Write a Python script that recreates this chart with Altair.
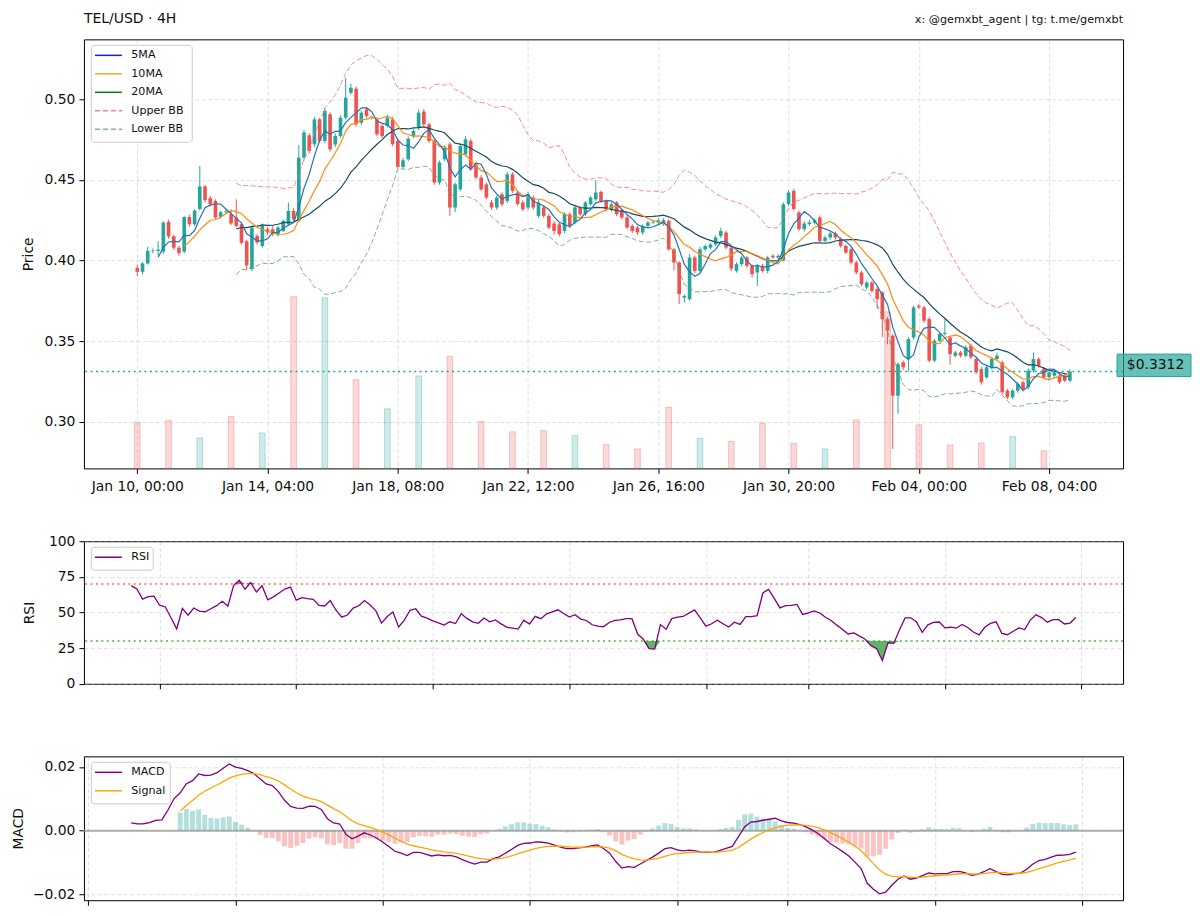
import altair as alt
import numpy as np
import pandas as pd

FONT = "DejaVu Sans"
UP = "#26a69a"
DOWN = "#ef5350"

# ---------------- data (4H candles, index 0 = Jan 10 00:00) ----------------
opens = [
    0.3955, 0.3930, 0.3982, 0.4058, 0.4060, 0.4055, 0.4240, 0.4150, 0.4080, 0.4056,
    0.4270, 0.4225, 0.4320, 0.4460, 0.4387, 0.4370, 0.4271, 0.4300, 0.4287, 0.4267,
    0.4226, 0.4120, 0.3947, 0.4153, 0.4090, 0.4194, 0.4194, 0.4164, 0.4184, 0.4225,
    0.4308, 0.4246, 0.4639, 0.4777, 0.4721, 0.4876, 0.4742, 0.4907, 0.4720, 0.4773,
    0.4886, 0.5041, 0.5066, 0.4855, 0.4938, 0.4890, 0.4876, 0.4835, 0.4835, 0.4876,
    0.4742, 0.4581, 0.4628, 0.4773, 0.4824, 0.4924, 0.4845, 0.4742, 0.4484, 0.4628,
    0.4721, 0.4329, 0.4442, 0.4659, 0.4742, 0.4597, 0.4515, 0.4473, 0.4360, 0.4329,
    0.4411, 0.4370, 0.4535, 0.4422, 0.4360, 0.4329, 0.4391, 0.4277, 0.4329, 0.4277,
    0.4230, 0.4225, 0.4184, 0.4287, 0.4236, 0.4329, 0.4287, 0.4349, 0.4380, 0.4426,
    0.4370, 0.4318, 0.4360, 0.4308, 0.4267, 0.4215, 0.4205, 0.4174, 0.4215, 0.4236,
    0.4236, 0.4226, 0.4246, 0.4070, 0.3988, 0.3770, 0.3761, 0.4019, 0.3936, 0.4070,
    0.4080, 0.4100, 0.4153, 0.4174, 0.4080, 0.3936, 0.3978, 0.4019, 0.3967, 0.3926,
    0.3967, 0.3936, 0.4030, 0.4019, 0.4000, 0.4350, 0.4432, 0.4298, 0.4195, 0.4226,
    0.4236, 0.4267, 0.4122, 0.4143, 0.4168, 0.4133, 0.4091, 0.4070, 0.3988, 0.3926,
    0.3833, 0.3864, 0.3823, 0.3802, 0.3637, 0.3534, 0.3162, 0.3369, 0.3390, 0.3523,
    0.3720, 0.3709, 0.3637, 0.3379, 0.3503, 0.3544, 0.3523, 0.3410, 0.3430, 0.3410,
    0.3472, 0.3389, 0.3327, 0.3276, 0.3338, 0.3390, 0.3369, 0.3193, 0.3152, 0.3193,
    0.3245, 0.3214, 0.3317, 0.3389, 0.3327, 0.3276, 0.3286, 0.3286, 0.3286, 0.3255,
]
highs = [
    0.3975, 0.3990, 0.4085, 0.4075, 0.4120, 0.4245, 0.4255, 0.4160, 0.4090, 0.4275,
    0.4285, 0.4320, 0.4587, 0.4470, 0.4400, 0.4380, 0.4310, 0.4320, 0.4317, 0.4380,
    0.4235, 0.4130, 0.4215, 0.4165, 0.4230, 0.4210, 0.4215, 0.4215, 0.4255, 0.4360,
    0.4325, 0.4717, 0.4810, 0.4790, 0.4890, 0.4885, 0.4945, 0.4920, 0.4790, 0.4900,
    0.5134, 0.5097, 0.5080, 0.4930, 0.4950, 0.4900, 0.4890, 0.4850, 0.4905, 0.4890,
    0.4755, 0.4635, 0.4770, 0.4815, 0.4935, 0.4940, 0.4855, 0.4755, 0.4620, 0.4715,
    0.4735, 0.4485, 0.4725, 0.4770, 0.4755, 0.4610, 0.4530, 0.4485, 0.4375, 0.4405,
    0.4425, 0.4550, 0.4550, 0.4435, 0.4375, 0.4425, 0.4405, 0.4375, 0.4345, 0.4290,
    0.4245, 0.4240, 0.4300, 0.4300, 0.4340, 0.4340, 0.4370, 0.4400, 0.4498, 0.4435,
    0.4380, 0.4360, 0.4370, 0.4320, 0.4280, 0.4225, 0.4215, 0.4225, 0.4245, 0.4250,
    0.4262, 0.4262, 0.4255, 0.4080, 0.3995, 0.3790, 0.4040, 0.4030, 0.4085, 0.4100,
    0.4110, 0.4155, 0.4205, 0.4185, 0.4090, 0.3990, 0.4030, 0.4030, 0.3975, 0.3980,
    0.3980, 0.4030, 0.4040, 0.4040, 0.4360, 0.4435, 0.4445, 0.4310, 0.4245, 0.4250,
    0.4262, 0.4280, 0.4155, 0.4180, 0.4180, 0.4145, 0.4100, 0.4080, 0.4000, 0.3935,
    0.3875, 0.3875, 0.3835, 0.3810, 0.3650, 0.3545, 0.3370, 0.3380, 0.3525, 0.3720,
    0.3730, 0.3720, 0.3650, 0.3515, 0.3555, 0.3637, 0.3535, 0.3440, 0.3440, 0.3475,
    0.3485, 0.3400, 0.3340, 0.3350, 0.3400, 0.3430, 0.3380, 0.3205, 0.3205, 0.3245,
    0.3255, 0.3330, 0.3430, 0.3400, 0.3340, 0.3320, 0.3320, 0.3300, 0.3300, 0.3325,
]
lows = [
    0.3905, 0.3915, 0.3975, 0.4045, 0.4030, 0.4040, 0.4135, 0.4065, 0.4030, 0.4045,
    0.4210, 0.4215, 0.4310, 0.4360, 0.4335, 0.4255, 0.4260, 0.4290, 0.4220, 0.4205,
    0.4100, 0.3940, 0.3935, 0.4100, 0.4080, 0.4160, 0.4150, 0.4150, 0.4175, 0.4215,
    0.4245, 0.4240, 0.4620, 0.4665, 0.4705, 0.4730, 0.4730, 0.4675, 0.4705, 0.4760,
    0.4875, 0.5030, 0.4830, 0.4840, 0.4885, 0.4875, 0.4770, 0.4760, 0.4825, 0.4710,
    0.4570, 0.4570, 0.4615, 0.4760, 0.4810, 0.4830, 0.4730, 0.4470, 0.4470, 0.4615,
    0.4277, 0.4300, 0.4430, 0.4645, 0.4555, 0.4505, 0.4430, 0.4380, 0.4315, 0.4315,
    0.4335, 0.4355, 0.4420, 0.4340, 0.4305, 0.4315, 0.4315, 0.4265, 0.4265, 0.4195,
    0.4160, 0.4150, 0.4170, 0.4200, 0.4225, 0.4275, 0.4275, 0.4340, 0.4370, 0.4360,
    0.4305, 0.4305, 0.4275, 0.4255, 0.4195, 0.4170, 0.4160, 0.4160, 0.4205, 0.4225,
    0.4225, 0.4215, 0.4060, 0.3940, 0.3730, 0.3740, 0.3750, 0.3920, 0.3925, 0.4060,
    0.4070, 0.4090, 0.4140, 0.4070, 0.3935, 0.3925, 0.3965, 0.3955, 0.3895, 0.3843,
    0.3925, 0.3920, 0.4010, 0.4005, 0.3995, 0.4340, 0.4310, 0.4185, 0.4180, 0.4215,
    0.4225, 0.4110, 0.4110, 0.4130, 0.4130, 0.4080, 0.4040, 0.3975, 0.3915, 0.3840,
    0.3820, 0.3800, 0.3700, 0.3525, 0.3480, 0.2832, 0.3050, 0.3320, 0.3310, 0.3510,
    0.3700, 0.3615, 0.3370, 0.3370, 0.3495, 0.3535, 0.3354, 0.3400, 0.3400, 0.3400,
    0.3390, 0.3295, 0.3230, 0.3265, 0.3325, 0.3380, 0.3170, 0.3140, 0.3140, 0.3180,
    0.3190, 0.3200, 0.3305, 0.3335, 0.3265, 0.3265, 0.3275, 0.3235, 0.3245, 0.3245,
]
closes = [
    0.3930, 0.3982, 0.4060, 0.4062, 0.4068, 0.4235, 0.4150, 0.4080, 0.4046, 0.4270,
    0.4225, 0.4310, 0.4460, 0.4375, 0.4350, 0.4267, 0.4300, 0.4305, 0.4230, 0.4215,
    0.4110, 0.3970, 0.4205, 0.4112, 0.4215, 0.4174, 0.4164, 0.4205, 0.4246, 0.4308,
    0.4256, 0.4638, 0.4794, 0.4680, 0.4876, 0.4742, 0.4928, 0.4690, 0.4773, 0.4886,
    0.5010, 0.5072, 0.4845, 0.4917, 0.4897, 0.4886, 0.4783, 0.4773, 0.4886, 0.4721,
    0.4581, 0.4622, 0.4756, 0.4804, 0.4917, 0.4845, 0.4742, 0.4484, 0.4608, 0.4700,
    0.4329, 0.4473, 0.4711, 0.4752, 0.4566, 0.4515, 0.4442, 0.4391, 0.4329, 0.4391,
    0.4349, 0.4535, 0.4432, 0.4350, 0.4318, 0.4411, 0.4329, 0.4360, 0.4277, 0.4205,
    0.4184, 0.4164, 0.4287, 0.4215, 0.4329, 0.4287, 0.4360, 0.4391, 0.4422, 0.4370,
    0.4318, 0.4349, 0.4287, 0.4267, 0.4205, 0.4184, 0.4174, 0.4215, 0.4236, 0.4240,
    0.4250, 0.4250, 0.4070, 0.3988, 0.3792, 0.3780, 0.4019, 0.3936, 0.4070, 0.4090,
    0.4100, 0.4143, 0.4184, 0.4081, 0.3950, 0.3978, 0.4019, 0.3967, 0.3916, 0.3967,
    0.3936, 0.4019, 0.4020, 0.4029, 0.4349, 0.4422, 0.4320, 0.4195, 0.4230, 0.4236,
    0.4250, 0.4122, 0.4143, 0.4168, 0.4143, 0.4091, 0.4050, 0.3988, 0.3926, 0.3854,
    0.3864, 0.3812, 0.3761, 0.3637, 0.3565, 0.3162, 0.3358, 0.3338, 0.3513, 0.3709,
    0.3710, 0.3627, 0.3379, 0.3503, 0.3544, 0.3550, 0.3420, 0.3430, 0.3410, 0.3461,
    0.3400, 0.3307, 0.3245, 0.3338, 0.3389, 0.3410, 0.3183, 0.3152, 0.3193, 0.3234,
    0.3203, 0.3317, 0.3389, 0.3348, 0.3276, 0.3307, 0.3307, 0.3245, 0.3255, 0.3312,
]

volume_index = [0, 6, 12, 18, 24, 30, 36, 42, 48, 54, 60, 66, 72, 78, 84,
                90, 96, 102, 108, 114, 120, 126, 132, 138, 144, 150, 156, 162, 168, 174]
volumes = [460000, 477000, 304000, 517000, 354000, 1710000, 1700000, 884000, 594000, 920000,
           1117000, 467000, 365000, 377000, 327000, 237000, 194000, 610000, 300000, 270000,
           450000, 250000, 194000, 484000, 1560000, 434000, 234000, 254000, 317000, 177000]

date_tick_index = [0, 25, 50, 75, 100, 125, 150, 175]
date_tick_labels = ["Jan 10, 00:00", "Jan 14, 04:00", "Jan 18, 08:00", "Jan 22, 12:00",
                    "Jan 26, 16:00", "Jan 30, 20:00", "Feb 04, 00:00", "Feb 08, 04:00"]
# Jan 13, 17, 21, 25, 29, Feb 1, 5, 9 at 00:00, as candle numbers
day_tick_index = [18, 42, 66, 90, 114, 132, 156, 180]
price_ticks = [0.30, 0.35, 0.40, 0.45, 0.50]
rsi_ticks = [0, 25, 50, 75, 100]
macd_ticks = [-0.02, 0.0, 0.02]

title_text = "TEL/USD · 4H"
credit_text = "x: @gemxbt_agent | tg: t.me/gemxbt"

# ---------------- derived tables ----------------
df = pd.DataFrame({"i": np.arange(len(closes)), "o": opens, "h": highs, "l": lows, "c": closes})
df["dir"] = np.where(df["c"] >= df["o"], "up", "down")
top = df[["o", "c"]].max(axis=1)
bot = df[["o", "c"]].min(axis=1)
mid = (top + bot) / 2
thin = (top - bot) < 0.0004
df["btop"] = np.where(thin, mid + 0.0002, top)
df["bbot"] = np.where(thin, mid - 0.0002, bot)
df["bx0"] = df["i"] - 0.35
df["bx1"] = df["i"] + 0.35
c = df["c"]
df["ma5"] = c.rolling(5).mean()
df["ma10"] = c.rolling(10).mean()
df["ma20"] = c.rolling(20).mean()
sd = c.rolling(20).std()
df["bbu"] = df["ma20"] + 2 * sd
df["bbl"] = df["ma20"] - 2 * sd

delta = c.diff()
gain = delta.where(delta > 0, 0).ewm(alpha=1 / 14, adjust=False, min_periods=14).mean()
loss = (-delta.where(delta < 0, 0)).ewm(alpha=1 / 14, adjust=False, min_periods=14).mean()
df["rsi"] = 100 - 100 / (1 + gain / loss)
df["rsi_hi"] = df["rsi"].clip(lower=70)
df["rsi_lo"] = df["rsi"].clip(upper=30)
df["lvl70"] = 70.0
df["lvl30"] = 30.0

ema12 = c.ewm(span=12, adjust=False).mean()
ema26 = c.ewm(span=26, adjust=False, min_periods=26).mean()
df["macd"] = ema12 - ema26
df["signal"] = df["macd"].ewm(span=9, adjust=False, min_periods=9).mean()
df["hist"] = df["macd"] - df["signal"]
df["hdir"] = np.where(df["hist"] >= 0, "up", "down")
df["hx0"] = df["i"] - 0.4
df["hx1"] = df["i"] + 0.4
df["zero"] = 0.0

vdf = pd.DataFrame({"i": volume_index, "v": volumes})
vdf["dir"] = df.loc[volume_index, "dir"].values
vdf["x0"] = vdf["i"] - 0.55
vdf["x1"] = vdf["i"] + 0.55
vdf["v0"] = 0

last = closes[-1]
pdf = pd.DataFrame({"p": [last], "label": [f"${last:.4f}"]})
one = pd.DataFrame({"k": [0]})

# ---------------- geometry ----------------
W = 1040
H_MAIN, H_RSI, H_MACD = 429.4, 142.7, 144
GAP = 72.3
LEFT_EXT, TOP_EXT = 74.6, 30.3   # canvas space left of / above the price plot

dir_scale = alt.Scale(domain=["up", "down"], range=[UP, DOWN])


def legend(entries, box_w):
    n = len(entries)
    layers = [
        alt.Chart(one).mark_rect(fill="white", fillOpacity=0.85, stroke="#cccccc",
                                 strokeWidth=1, cornerRadius=3).encode(
            x=alt.value(7.4), x2=alt.value(7.4 + box_w),
            y=alt.value(6), y2=alt.value(6 + 18.5 * n + 4.5))
    ]
    for k, (label, color, dash) in enumerate(entries):
        yk = 16 + 18.5 * k
        kw = dict(color=color, strokeWidth=1.5)
        if dash:
            kw["strokeDash"] = dash
        layers.append(alt.Chart(one).mark_rule(**kw).encode(
            x=alt.value(11), x2=alt.value(38), y=alt.value(yk)))
        layers.append(alt.Chart(one).mark_text(text=label, align="left", baseline="middle",
                                               fontSize=11.1, color="#111", font=FONT).encode(
            x=alt.value(47.4), y=alt.value(yk)))
    return layers


# ---------------- main panel ----------------
label_expr = "[" + ",".join(f"'{t}'" for t in date_tick_labels) + "][round(datum.value/25)]"
x_main_scale = alt.Scale(domain=[-10.24, 189.2], nice=False, zero=False)
x_main_axis = alt.Axis(values=date_tick_index, labelExpr=label_expr, title=None, grid=True,
                       labelFlush=False, labelOverlap=False, labelPadding=6)
price_scale = alt.Scale(domain=[0.2711, 0.5372], nice=False, zero=False)
price_axis = alt.Axis(values=price_ticks, format=".2f", title="Price", grid=True, orient="left",
                      titlePadding=9)


def MX(f):
    return alt.X(f"{f}:Q", scale=x_main_scale, axis=x_main_axis)


def MY(f):
    return alt.Y(f"{f}:Q", scale=price_scale, axis=price_axis)


vol = alt.Chart(vdf).mark_rect(fillOpacity=0.22, strokeOpacity=0.3, strokeWidth=1).encode(
    x=MX("x0"), x2=alt.X2("x1"),
    y=alt.Y("v:Q", scale=alt.Scale(domain=[0, max(volumes) * 2.5], nice=False), axis=None),
    y2=alt.Y2("v0"),
    fill=alt.Fill("dir:N", scale=dir_scale, legend=None),
    stroke=alt.Stroke("dir:N", scale=dir_scale, legend=None),
)

wick = alt.Chart(df).mark_rule(strokeWidth=1).encode(
    x=MX("i"), y=MY("l"), y2=alt.Y2("h"),
    color=alt.Color("dir:N", scale=dir_scale, legend=None))
body = alt.Chart(df).mark_rect().encode(
    x=MX("bx0"), x2=alt.X2("bx1"), y=MY("bbot"), y2=alt.Y2("btop"),
    color=alt.Color("dir:N", scale=dir_scale, legend=None))


def mline(field, color, width=1.2, dash=None, opacity=1.0):
    kw = dict(color=color, strokeWidth=width, opacity=opacity)
    if dash:
        kw["strokeDash"] = dash
    return alt.Chart(df).mark_line(**kw).encode(x=MX("i"), y=MY(field))


ma_layers = [
    mline("bbu", "#f07070", 1.0, [5, 2.5], 0.8),
    mline("bbl", "#5aa55a", 1.0, [5, 2.5], 0.8),
    mline("ma20", "#174d5f", 1.2),
    mline("ma10", "#ff8a10", 1.2),
    mline("ma5", "#2a72b5", 1.2),
]

pline = alt.Chart(pdf).mark_rule(color=UP, strokeWidth=1.5, strokeDash=[2, 3.4]).encode(y=MY("p"))
pbox = alt.Chart(pdf).mark_rect(fill=UP, fillOpacity=0.7, stroke=UP, strokeWidth=1,
                                yOffset=-17.4, y2Offset=5.0).encode(
    x=alt.value(W - 6), x2=alt.value(W + 68), y=MY("p"), y2=alt.Y2("p"))
ptext = alt.Chart(pdf).mark_text(fontSize=13.9, color="#111", dy=-6, align="center",
                                 baseline="middle", font=FONT).encode(
    x=alt.value(W + 32.5), y=MY("p"), text="label:N")

t_left = alt.Chart(one).mark_text(text=title_text, align="left", baseline="middle",
                                  fontSize=14, color="#111", font=FONT).encode(
    x=alt.value(0), y=alt.value(-20.3))
t_right = alt.Chart(one).mark_text(text=credit_text, align="right", baseline="middle",
                                   fontSize=11.2, color="#111", font=FONT).encode(
    x=alt.value(W), y=alt.value(-19.8))
# white 1px corner marker fixing the canvas origin relative to the plots
anchor = alt.Chart(one).mark_rect(fill="white", opacity=1).encode(
    x=alt.value(-LEFT_EXT), x2=alt.value(-LEFT_EXT + 1),
    y=alt.value(-TOP_EXT), y2=alt.value(-TOP_EXT + 1))

main_legend = legend([
    ("5MA", "#1a1adf", None),
    ("10MA", "#f5a623", None),
    ("20MA", "#0a7a0a", None),
    ("Upper BB", "#f08080", [5, 3]),
    ("Lower BB", "#80b880", [5, 3]),
], 101)

price_group = alt.layer(anchor, wick, body, *ma_layers, pline, *main_legend,
                        t_left, t_right, pbox, ptext)
main = alt.layer(vol, price_group).resolve_scale(y="independent").properties(width=W, height=H_MAIN)

# ---------------- RSI panel ----------------
sub_axis = alt.Axis(values=day_tick_index, labels=False, title=None, grid=True)
rx_scale = alt.Scale(domain=[4.7, 187.3], nice=False, zero=False)
rsi_scale = alt.Scale(domain=[0, 100], nice=False, zero=False)
rsi_axis = alt.Axis(values=rsi_ticks, format="d", title="RSI", grid=True, titlePadding=12)


def RX(f):
    return alt.X(f"{f}:Q", scale=rx_scale, axis=sub_axis)


def RY(f):
    return alt.Y(f"{f}:Q", scale=rsi_scale, axis=rsi_axis)


r70 = alt.Chart(pd.DataFrame({"v": [70]})).mark_rule(color="#ff4a4a", strokeWidth=1.6,
                                                     strokeDash=[2, 3.4], opacity=0.85).encode(y=RY("v"))
r30 = alt.Chart(pd.DataFrame({"v": [30]})).mark_rule(color="#2ca02c", strokeWidth=1.6,
                                                     strokeDash=[2, 3.4], opacity=0.85).encode(y=RY("v"))
fill_hi = alt.Chart(df).mark_area(color="#e8283c", opacity=0.75).encode(
    x=RX("i"), y=RY("rsi_hi"), y2=alt.Y2("lvl70"))
fill_lo = alt.Chart(df).mark_area(color="#2e9a2e", opacity=0.75).encode(
    x=RX("i"), y=RY("rsi_lo"), y2=alt.Y2("lvl30"))
rsi_line = alt.Chart(df).mark_line(color="#800080", strokeWidth=1.3).encode(x=RX("i"), y=RY("rsi"))
rsi_legend = legend([("RSI", "#800080", None)], 62)

rsi_panel = alt.layer(r70, r30, fill_hi, fill_lo, rsi_line, *rsi_legend).properties(width=W, height=H_RSI)

# ---------------- MACD panel ----------------
mx_scale = alt.Scale(domain=[17.3, 186.7], nice=False, zero=False)
macd_scale = alt.Scale(domain=[-0.0218, 0.0233], nice=False, zero=False)
macd_axis = alt.Axis(values=macd_ticks, format=".2f", title="MACD", grid=True, titlePadding=6.5)


def KX(f):
    return alt.X(f"{f}:Q", scale=mx_scale, axis=sub_axis)


def KY(f):
    return alt.Y(f"{f}:Q", scale=macd_scale, axis=macd_axis)


hist = alt.Chart(df).mark_rect(opacity=0.35).encode(
    x=KX("hx0"), x2=alt.X2("hx1"), y=KY("hist"), y2=alt.Y2("zero"),
    color=alt.Color("hdir:N", scale=dir_scale, legend=None))
zero_line = alt.Chart(pd.DataFrame({"v": [0.0]})).mark_rule(color="#9a9a9a", strokeWidth=2,
                                                            opacity=0.8).encode(y=KY("v"))
macd_line = alt.Chart(df).mark_line(color="#800080", strokeWidth=1.3).encode(x=KX("i"), y=KY("macd"))
sig_line = alt.Chart(df).mark_line(color="#ffa500", strokeWidth=1.3).encode(x=KX("i"), y=KY("signal"))
macd_legend = legend([("MACD", "#800080", None), ("Signal", "#ffa500", None)], 79)

macd_panel = alt.layer(hist, zero_line, macd_line, sig_line, *macd_legend).properties(width=W, height=H_MACD)

# ---------------- assemble ----------------
chart = alt.vconcat(main, rsi_panel, macd_panel, spacing=GAP, bounds="flush").properties(
    padding={"left": 0, "top": 0, "right": 0, "bottom": 0}
).configure(font=FONT).configure_view(stroke="#000000", strokeWidth=1).configure_axis(
    labelFont=FONT, labelFontSize=13.9, labelColor="#111", titleFont=FONT, titleFontSize=13.9,
    titleFontWeight="normal", titleColor="#111", tickColor="#000", tickSize=5, tickWidth=1,
    domain=False, gridColor="#b0b0b0", gridDash=[4, 2.5], gridOpacity=0.5, gridWidth=0.8,
    labelPadding=4, titlePadding=6,
)

chart.save("out.html", embed_options={"renderer": "svg", "actions": False})
